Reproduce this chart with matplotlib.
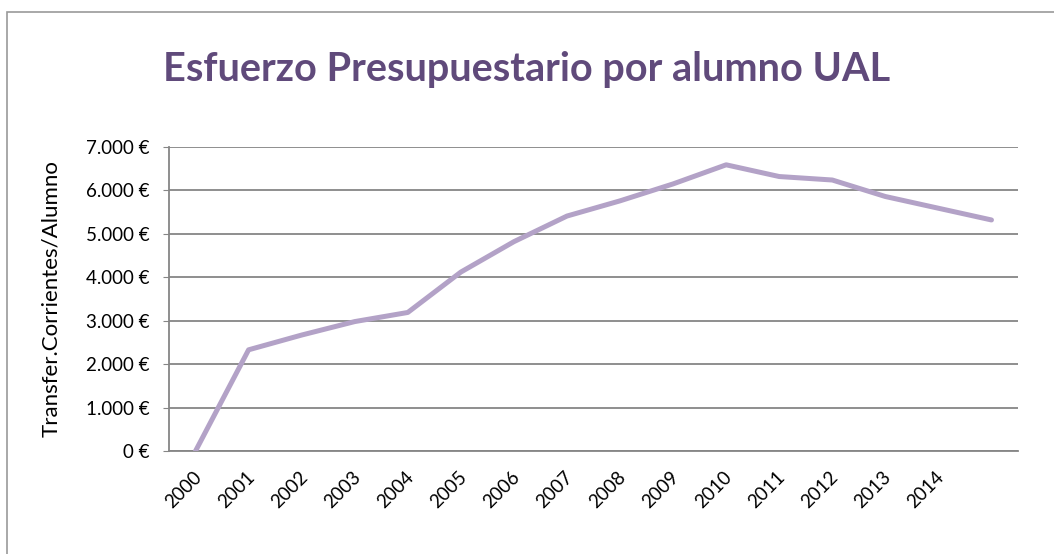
import matplotlib
matplotlib.use("Agg")
import matplotlib.pyplot as plt
from matplotlib.patches import Rectangle
from matplotlib.ticker import FuncFormatter
from matplotlib.transforms import ScaledTranslation

# Esfuerzo presupuestario por alumno (UAL)
years = ["2000", "2001", "2002", "2003", "2004", "2005", "2006", "2007",
         "2008", "2009", "2010", "2011", "2012", "2013", "2014", ""]
values = [0, 2330, 2670, 2980, 3190, 4120, 4820, 5410,
          5760, 6150, 6590, 6320, 6240, 5860, 5590, 5320]
y_ticks = [0, 1000, 2000, 3000, 4000, 5000, 6000, 7000]

plt.rcParams["font.family"] = ["Lato", "DejaVu Sans"]

fig = plt.figure(figsize=(10.54, 5.54), dpi=100)
fig.patch.set_facecolor("white")

# marco exterior del grafico
fig.patches.append(Rectangle((7 / 1054, -0.05), 1.2, 1 - 12 / 554 + 0.05,
                             transform=fig.transFigure, fill=False,
                             edgecolor="#9a9a9a", linewidth=1.2))

ax = fig.add_axes([169 / 1054, 1 - 451 / 554, (1018 - 169) / 1054, (451 - 147) / 554])

x = list(range(len(values)))
ax.plot(x, values, color="#B3A2C7", linewidth=3.6, solid_capstyle="round",
        solid_joinstyle="round", zorder=3)

ax.set_xlim(-0.5, len(values) - 0.5)
ax.set_ylim(0, 7000)
ax.set_yticks(y_ticks)
ax.yaxis.set_major_formatter(FuncFormatter(
    lambda v, p: f"{int(v):,} €".replace(",", ".")))
ax.grid(axis="y", color="#868686", linewidth=1.3)
ax.set_axisbelow(True)

ax.set_xticks(x)
ax.set_xticklabels(years, rotation=45, ha="right", va="center",
                   rotation_mode="anchor")
ax.tick_params(axis="x", length=0, pad=17, labelsize=13.5)
ax.tick_params(axis="y", length=4, color="#868686", pad=10, labelsize=13.5)
shift = ScaledTranslation(3 / 100, 0, fig.dpi_scale_trans)
for lbl in ax.get_xticklabels():
    lbl.set_transform(lbl.get_transform() + shift)

for s in ["top", "right"]:
    ax.spines[s].set_visible(False)
for s in ["left", "bottom"]:
    ax.spines[s].set_color("#868686")
    ax.spines[s].set_linewidth(1.3)

ax.set_ylabel("Transfer.Corrientes/Alumno", fontsize=16, labelpad=18)

fig.text(527 / 1054, 1 - 70 / 554, "Esfuerzo Presupuestario por alumno UAL",
         ha="center", va="center", fontsize=28.5, fontweight="bold",
         color="#604A7B")

fig.savefig("out.png", dpi=100)
